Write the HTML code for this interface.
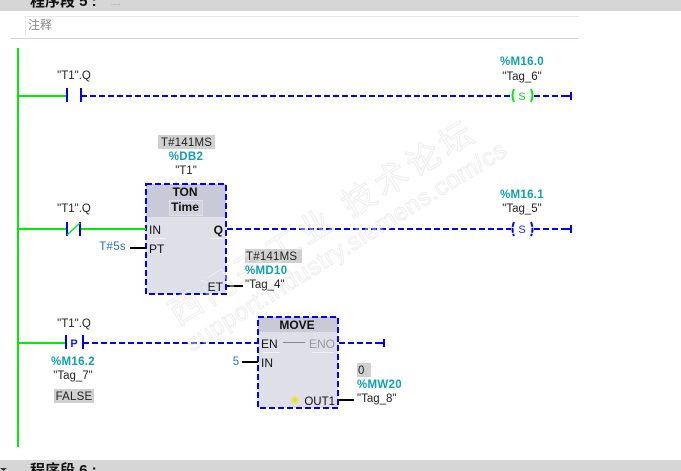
<!DOCTYPE html>
<html>
<head>
<meta charset="utf-8">
<style>
html,body{margin:0;padding:0;background:#fff;width:681px;height:471px;overflow:hidden}
svg{display:block}
text{font-family:"Liberation Sans","Noto Sans CJK SC",sans-serif;font-size:11.5px;fill:#222}
.t{fill:#0f9fae;font-weight:bold;font-size:11.5px;letter-spacing:.3px}
.m{text-anchor:middle}
.b{fill:#2a6fc9}
.bl{stroke:#0000ff;stroke-width:2;fill:none;stroke-dasharray:6 3}
.sol{stroke:#0000ff;stroke-width:2;fill:none}
.g{stroke:#00ee00;stroke-width:2;fill:none}
.k{stroke:#000;stroke-width:2;fill:none}
.p{font-size:12px;fill:#111}
.w1{font-size:33px;letter-spacing:5px}
.w2{font-size:24.500px;letter-spacing:.6px}
.w1,.w2{fill:#fbfbfb;fill-opacity:.35;stroke:#d4d4d4;stroke-width:1;stroke-opacity:.4}
</style>
</head>
<body>
<svg width="681" height="471" viewBox="0 0 681 471" xmlns="http://www.w3.org/2000/svg">
<rect width="681" height="471" fill="#fff"/>
<!-- header -->
<rect x="0" y="0" width="681" height="11" fill="#d6d6d6"/>
<text x="30" y="6" style="font-size:15px;font-weight:bold;fill:#111">程序段 5 :</text>
<text x="111" y="5" style="font-size:7px;fill:#888">.....</text>
<path d="M25.500 36V16.500H579" stroke="#e8e8e8" fill="none"/>
<text x="28" y="29" style="font-size:12px;fill:#888">注释</text>
<rect x="11" y="38" width="568" height="1" fill="#d2cfe6"/>
<!-- rail -->
<rect x="17" y="48" width="2" height="399" fill="#00ee00"/>
<!-- rung 1 -->
<path class="g" d="M19 96H67"/>
<path class="sol" d="M67 88V102M81 88V102"/>
<path class="bl" d="M81 96H511"/>
<text x="74" y="79" class="m">"T1".Q</text>
<text x="522" y="65" class="t m">%M16.0</text>
<text x="522" y="80" class="m">"Tag_6"</text>
<path d="M514 89Q511 95.500 514 102M531 89Q534 95.500 531 102" stroke="#00ee00" stroke-width="2" fill="none"/>
<text x="522" y="100" class="m" style="fill:#00dd00;font-size:11px">S</text>
<path class="bl" d="M534 96H566"/>
<path class="sol" d="M565 96H571M571 92V100"/>
<!-- TON block -->
<rect x="158" y="135" width="57" height="14" fill="#d0d0d0"/>
<text x="186.500" y="146" class="m" style="fill:#222;letter-spacing:.2px">T#141MS</text>
<text x="186" y="160" class="t m">%DB2</text>
<text x="186" y="174" class="m">"T1"</text>
<rect x="146" y="184" width="80" height="110" fill="#dfdfe8"/>
<rect x="146" y="184" width="80" height="33" fill="#c9cad8"/>
<rect x="169.500" y="200.500" width="33" height="15" fill="#d2d3df" stroke="#dedfe8"/>
<rect x="146" y="184" width="80" height="110" class="bl"/>
<text x="185" y="196" class="m p" style="font-weight:bold">TON</text>
<text x="185" y="211" class="m p" style="font-weight:bold">Time</text>
<text x="149" y="234" class="p">IN</text>
<text x="149" y="253" class="p">PT</text>
<text x="223" y="234" class="p" text-anchor="end" style="font-weight:bold">Q</text>
<text x="223" y="291" class="p" text-anchor="end">ET</text>
<path d="M150 238.500H166M210 238.500H223" stroke="#f2f2f6"/>
<path class="g" d="M19 229H66"/>
<path class="sol" d="M67 222V236M80 222V236"/>
<path class="g" d="M81 229H146"/>
<path d="M67 235L80 223" stroke="#00ee00" stroke-width="1.500" fill="none"/>
<text x="74" y="212" class="m">"T1".Q</text>
<path class="k" d="M130 248H146"/>
<text x="126" y="250" class="b" text-anchor="end" style="letter-spacing:.3px">T#5s</text>
<path class="bl" d="M227 229H511"/>
<text x="522" y="198" class="t m">%M16.1</text>
<text x="522" y="212" class="m">"Tag_5"</text>
<path d="M514 222Q511 229 514 236M531 222Q534 229 531 236" stroke="#0000ff" stroke-width="2" fill="none" stroke-dasharray="5 1"/>
<text x="522" y="233" class="m" style="fill:#2222ee;font-size:11px">S</text>
<path class="bl" d="M534 229H566"/>
<path class="sol" d="M565 229H571M571 225V233"/>
<!-- ET out -->
<path class="k" d="M227 286H243"/>
<rect x="245" y="249" width="57" height="14" fill="#d0d0d0"/>
<!-- rung 3 -->
<path class="g" d="M19 343H66"/>
<path class="sol" d="M66 335V349M83 335V349"/>
<text x="74" y="347" class="m" style="fill:#1a1aee;font-size:11px;font-weight:bold">P</text>
<path class="bl" d="M83 343H258"/>
<text x="74" y="327" class="m">"T1".Q</text>
<text x="73" y="365" class="t m">%M16.2</text>
<text x="73" y="379" class="m">"Tag_7"</text>
<rect x="54" y="389" width="40" height="14" fill="#d0d0d0"/>
<text x="74" y="400" class="m" style="letter-spacing:.2px">FALSE</text>
<!-- MOVE -->
<rect x="258" y="317" width="80" height="91" fill="#dfdfe8"/>
<rect x="258" y="317" width="80" height="15" fill="#c9cad8"/>
<rect x="258" y="317" width="80" height="91" class="bl"/>
<text x="297" y="329" class="m p" style="font-weight:bold">MOVE</text>
<text x="261" y="348" class="p">EN</text>
<text x="335" y="348" class="p" text-anchor="end" style="fill:#999">ENO</text>
<path d="M283 342.500H305" stroke="#888" stroke-width="1"/>
<path d="M262 352.500H280M312 352.500H334" stroke="#f2f2f6"/>
<text x="261" y="367" class="p">IN</text>
<text x="335" y="405" class="p" text-anchor="end" style="font-size:11.500px">OUT1</text>
<g stroke="#e6e600" stroke-width="1"><path d="M291 400H299M295 396V404M292 397L298 403M298 397L292 403"/></g>
<path class="bl" d="M339 343H380"/>
<path class="sol" d="M379 343H384M384 339V347"/>
<path class="k" d="M242 362H258"/>
<text x="236" y="365" class="b" text-anchor="middle">5</text>
<path class="k" d="M339 400H354"/>
<rect x="357" y="363" width="14" height="14" fill="#d0d0d0"/>
<text x="358" y="374">0</text>
<text x="357" y="388" class="t">%MW20</text>
<text x="357" y="402">"Tag_8"</text>
<!-- watermark -->
<text transform="translate(178 326) rotate(-32)" class="w1">西门子工业 技术论坛</text>
<text transform="translate(192 352) rotate(-32)" class="w2">support.industry.siemens.com/cs</text>
<!-- labels above watermark -->
<text x="246" y="260" style="letter-spacing:.2px">T#141MS</text>
<text x="245" y="274" class="t">%MD10</text>
<text x="245" y="288">"Tag_4"</text>
<!-- footer -->
<rect x="0" y="460" width="681" height="11" fill="#d6d6d6"/>
<path d="M0 468H7L3.500 471Z" fill="#333"/>
<text x="30" y="475" style="font-size:15px;font-weight:bold;fill:#111">程序段 6 :</text>
</svg>
</body>
</html>
